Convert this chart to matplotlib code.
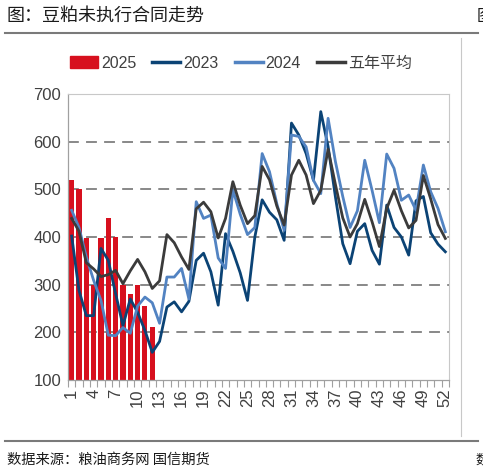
import matplotlib
matplotlib.use('agg')
import numpy as np
import matplotlib.pyplot as plt
from matplotlib.lines import Line2D
from matplotlib.patches import Patch

# 周次
weeks = np.arange(1, 53)

# 2025 柱（1-12周）
weeks_2025 = np.arange(1, 13)
val_2025 = [520, 500, 398, 300, 397, 440, 400, 300, 281, 300, 256, 212]

val_2023 = [402, 288, 235, 235, 376, 351, 281, 214, 270, 242, 204, 158, 181,
            253, 264, 243, 265, 351, 366, 327, 257, 407, 370, 325, 267, 400,
            478, 452, 436, 393, 639, 614, 575, 519, 663, 590, 484, 386, 344,
            412, 428, 372, 343, 467, 420, 400, 362, 476, 485, 409, 385, 369]

val_2024 = [456, 420, 358, 309, 267, 194, 193, 210, 198, 255, 274, 262, 219,
            316, 316, 334, 270, 474, 439, 446, 356, 334, 499, 448, 405, 420,
            575, 537, 470, 414, 614, 611, 589, 519, 491, 649, 558, 485, 420,
            455, 561, 498, 430, 574, 544, 477, 488, 456, 551, 495, 460, 411]

val_avg = [439, 412, 346, 333, 317, 321, 330, 302, 329, 353, 327, 292, 308,
           405, 388, 358, 332, 459, 473, 453, 398, 439, 516, 467, 428, 445,
           548, 520, 465, 425, 530, 561, 530, 470, 498, 584, 510, 440, 400,
           428, 479, 432, 380, 460, 498, 455, 419, 435, 529, 480, 426, 397]

y_ticks = [100, 200, 300, 400, 500, 600, 700]

c_red = '#D7101E'
c_dark = '#0B4375'
c_light = '#5283C2'
c_avg = '#3B3B3B'

num_font = ['Liberation Sans', 'DejaVu Sans']
cjk_font = ['Noto Sans CJK SC', 'DejaVu Sans']

W, H = 483, 473
fig = plt.figure(figsize=(W / 100, H / 100), dpi=100)

ax = fig.add_axes([68 / W, 1 - 380 / H, (449 - 68) / W, (380 - 94) / H])

ax.bar(weeks_2025, val_2025, width=0.7, color=c_red, zorder=2)
ax.plot(weeks, val_2023, color=c_dark, lw=2.0, zorder=3)
ax.plot(weeks, val_2024, color=c_light, lw=2.0, zorder=3)
ax.plot(weeks, val_avg, color=c_avg, lw=2.0, zorder=4)

ax.set_xlim(0.5, 52.5)
ax.set_ylim(100, 700)

# 网格线（虚线）
for v in y_ticks[1:-1]:
    ax.axhline(v, color='#7F7F7F', lw=1.3, ls=(0, (6, 4)), zorder=1)

ax.set_yticks(y_ticks)
ax.set_yticklabels([str(v) for v in y_ticks], family=num_font, fontsize=12,
                   color='#404040')
ax.tick_params(axis='y', length=0, pad=5)

lab_weeks = list(range(1, 53, 3))
ax.set_xticks(lab_weeks)
ax.set_xticklabels([str(w) for w in lab_weeks], rotation=90, family=num_font,
                   fontsize=12, color='#404040')
ax.set_xticks(np.arange(0.5, 53, 1), minor=True)
ax.tick_params(axis='x', which='major', length=0, pad=6)
ax.tick_params(axis='x', which='minor', length=5, color='#A0A0A0', width=0.8)

for s in ['top', 'right']:
    ax.spines[s].set_color('#C8C8C8')
    ax.spines[s].set_linewidth(0.8)
for s in ['left', 'bottom']:
    ax.spines[s].set_color('#A0A0A0')
    ax.spines[s].set_linewidth(0.9)

handles = [Patch(color=c_red, label='2025'),
           Line2D([], [], color=c_dark, lw=2.5, label='2023'),
           Line2D([], [], color=c_light, lw=2.5, label='2024'),
           Line2D([], [], color=c_avg, lw=2.5, label='五年平均')]
leg = fig.legend(handles=handles, loc='center', ncol=4, frameon=False,
                 bbox_to_anchor=(241 / W, 1 - 63 / H), handlelength=1.75,
                 handleheight=0.8, handletextpad=0.2, columnspacing=1.0,
                 prop={'family': num_font + ['Noto Sans CJK SC'], 'size': 11.5})
for t in leg.get_texts():
    t.set_color('#404040')

# 标题、边框线、来源
fig.text(7 / W, 1 - 16 / H, '图：豆粕未执行合同走势', family=cjk_font,
         fontsize=13, va='center', ha='left', color='#1A1A1A')
fig.add_artist(Line2D([5 / W, 478 / W], [1 - 33 / H, 1 - 33 / H],
                      color='#7A7A7A', lw=1.5))
fig.add_artist(Line2D([5 / W, 478 / W], [1 - 441 / H, 1 - 441 / H],
                      color='#7A7A7A', lw=1.5))
fig.add_artist(Line2D([461 / W, 461 / W], [1 - 38 / H, 1 - 436 / H],
                      color='#C8C8C8', lw=0.8))
fig.text(7 / W, 1 - 460 / H, '数据来源：粮油商务网 国信期货', family=cjk_font,
         fontsize=10.3, va='center', ha='left', color='#1A1A1A')
fig.text(477 / W, 1 - 16 / H, '图', family=cjk_font, fontsize=12,
         va='center', ha='left', color='#1A1A1A')
fig.text(475 / W, 1 - 460 / H, '数', family=cjk_font, fontsize=9.5,
         va='center', ha='left', color='#1A1A1A')

fig.savefig('out.png', dpi=100)
